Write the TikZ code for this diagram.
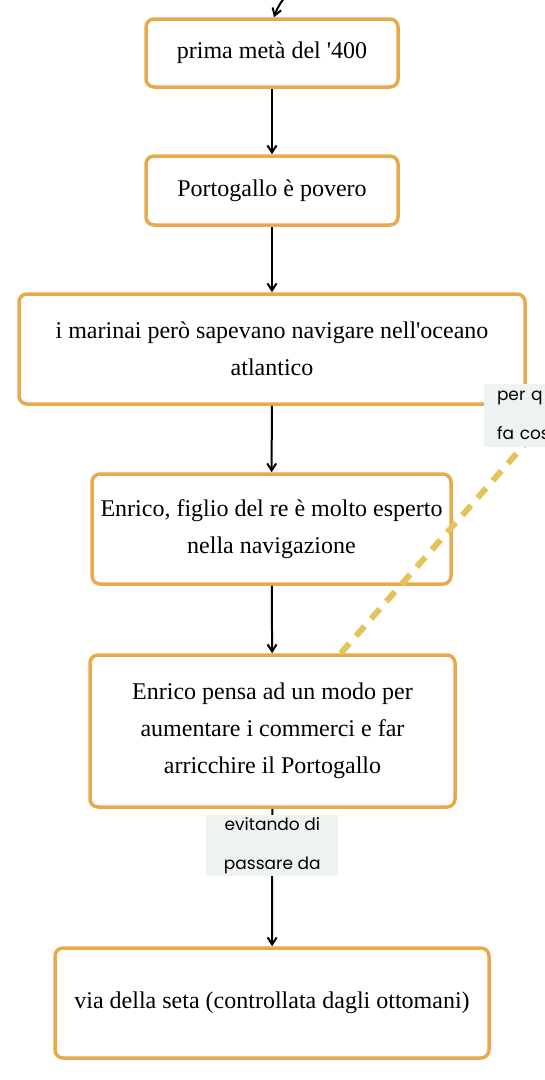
\documentclass[tikz,border=0pt]{standalone}
\usepackage{fontspec}
\setmainfont{Liberation Serif}
\newfontfamily\labelfont{Poppins}
\usetikzlibrary{arrows.meta}

\definecolor{boxorange}{HTML}{E8A94C}
\definecolor{dashyellow}{HTML}{E4C35B}
\definecolor{labelgray}{HTML}{EEF2F3}

\tikzset{
  stepbox/.style={draw=boxorange, line width=3.5pt, rounded corners=8pt, fill=white,
    align=center, inner sep=0pt, font=\fontsize{24}{37}\selectfont},
  flow/.style={-{Straight Barb[length=7pt,width=9pt]}, line width=2pt},
  linklabel/.style={fill=labelgray, inner sep=0pt, font=\labelfont\fontsize{17}{39}\selectfont}
}

\begin{document}
\begin{tikzpicture}[x=1pt, y=-1pt]

    % page
    \clip (0,0) rectangle (545,1080);

    % Steps
    \node[stepbox, minimum width=252, minimum height=68] (prima) at (272,53) {prima metà del \textquotesingle 400};
    \node[stepbox, minimum width=252, minimum height=69] (povero) at (272,190.5) {Portogallo è povero};
    \node[stepbox, minimum width=506, minimum height=110] (marinai) at (272,349)
        {i marinai però sapevano navigare nell\textquotesingle oceano\\atlantico};
    \node[stepbox, minimum width=359, minimum height=110] (enrico) at (271.5,529)
        {Enrico, figlio del re è molto esperto\\nella navigazione};
    \node[stepbox, minimum width=365, minimum height=152] (pensa) at (272.5,731)
        {Enrico pensa ad un modo per\\aumentare i commerci e far\\arricchire il Portogallo};
    \node[stepbox, minimum width=434, minimum height=110] (seta) at (272,1003)
        {via della seta (controllata dagli ottomani)};

    % Arrows
    \coordinate (sopra) at (288,-6);
    \draw[flow] (sopra) to[bend right=12] (prima);
    \draw[flow] (prima) -- (povero);
    \draw[flow] (povero) -- (marinai);
    \draw[flow] (marinai) -- (enrico);
    \draw[flow] (enrico) -- (pensa);
    \draw[flow] (pensa) -- (seta)
        node[linklabel, pos=0.27, minimum width=132, minimum height=61, align=center] (evitando)
        {evitando di\\passare da};

    % Dashed link off the page
    \coordinate (fuori) at (672,277);
    \draw[dashyellow, line width=6pt, dash pattern=on 13pt off 10pt] (pensa) -- (fuori);
    \node[linklabel, minimum height=63, text width=104, align=left,
        inner xsep=13pt] (perq) at (549,415.5) {per q\\fa cos};

\end{tikzpicture}
\end{document}
